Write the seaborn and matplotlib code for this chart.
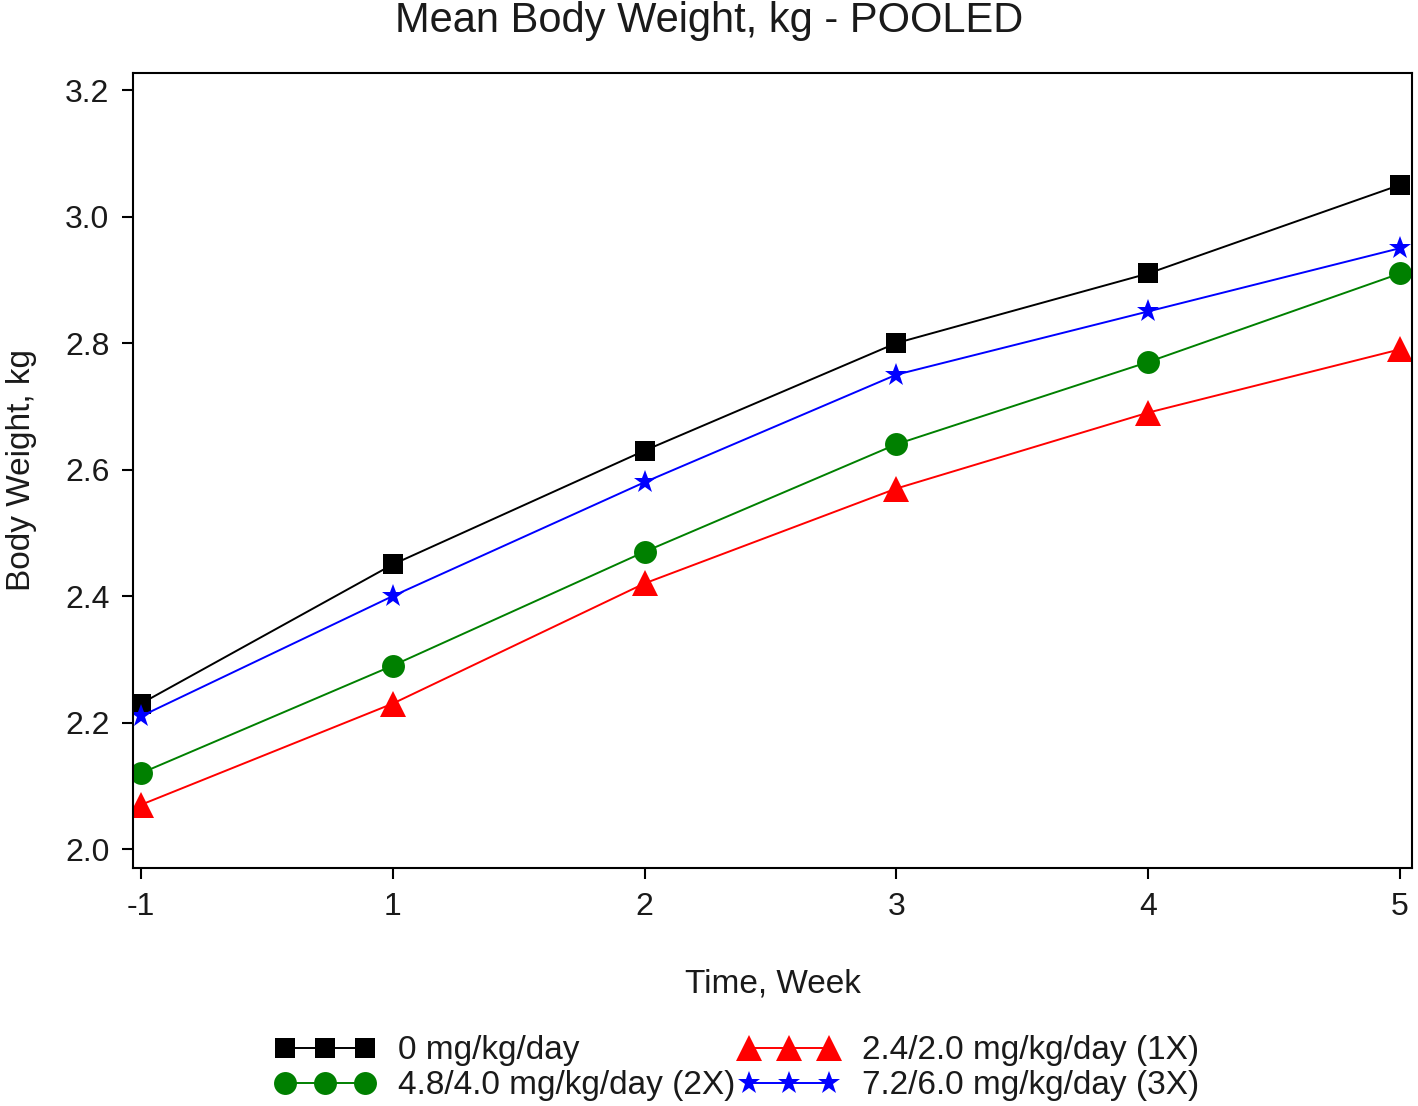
import pandas as pd
import seaborn as sns
import matplotlib.pyplot as plt
from matplotlib.lines import Line2D

# ----------------------------------------------------------------
# Data
# ----------------------------------------------------------------
weeks = ['-1', '1', '2', '3', '4', '5']
doses = ['0 mg/kg/day', '4.8/4.0 mg/kg/day (2X)',
         '2.4/2.0 mg/kg/day (1X)', '7.2/6.0 mg/kg/day (3X)']
w_ctrl = [2.23, 2.45, 2.63, 2.80, 2.91, 3.05]
w_2x = [2.12, 2.29, 2.47, 2.64, 2.77, 2.91]
w_1x = [2.07, 2.23, 2.42, 2.57, 2.69, 2.79]
w_3x = [2.21, 2.40, 2.58, 2.75, 2.85, 2.95]

colors = ['black', 'green', 'red', 'blue']
markers = ['s', 'o', '^', '*']
msizes = {'s': 14.5, 'o': 16.5, '^': 19, '*': 17}

df = pd.DataFrame({
    'Week': weeks * 4,
    'Weight': w_ctrl + w_2x + w_1x + w_3x,
    'Dose': [d for d in doses for _ in weeks],
})

sns.set_style('ticks')
plt.rcParams['font.family'] = ['Liberation Sans', 'DejaVu Sans']

fig = plt.figure(figsize=(14.18, 11.06), dpi=100)
ax = fig.add_axes([0.0938, 0.2152, 0.902, 0.7188])

sns.pointplot(data=df, x='Week', y='Weight', hue='Dose', order=weeks,
              hue_order=doses, palette=colors, markers=markers,
              linestyles='-', errorbar=None, dodge=False, linewidth=1.4,
              ax=ax, legend=False)

for line in ax.lines:
    m = line.get_marker()
    if m in msizes:
        line.set_markersize(msizes[m])
        line.set_markeredgewidth(0)

ax.set_xlim(-0.032, 5.048)
ax.set_ylim(1.970, 3.227)
ax.set_yticks([2.0, 2.2, 2.4, 2.6, 2.8, 3.0, 3.2])
ax.set_yticklabels(['2.0', '2.2', '2.4', '2.6', '2.8', '3.0', '3.2'])

for s in ax.spines.values():
    s.set_visible(True)
    s.set_linewidth(1.5)
    s.set_color('black')
ax.tick_params(axis='both', labelsize=23, width=1.5, length=8, pad=9,
               colors='black', labelcolor='#1a1a1a')

ax.set_xlabel('Time, Week', fontsize=24, labelpad=34, color='#1a1a1a')
ax.set_ylabel('Body Weight, kg', fontsize=24, labelpad=20, color='#1a1a1a')
fig.suptitle('Mean Body Weight, kg - POOLED', fontsize=30, y=0.999,
             va='top', color='#1a1a1a')

handles = [Line2D([], [], color=c, marker=m, markersize=msizes[m],
                  markeredgewidth=0, linewidth=1.4)
           for c, m in zip(colors, markers)]
fig.legend(handles, doses, ncol=2, numpoints=3, loc='center',
           bbox_to_anchor=(0.52, 0.034), frameon=False, fontsize=24,
           handlelength=3.0, handletextpad=0.7, columnspacing=0.1,
           labelspacing=0.12, labelcolor='#1a1a1a')

plt.savefig('out.png', dpi=100)
